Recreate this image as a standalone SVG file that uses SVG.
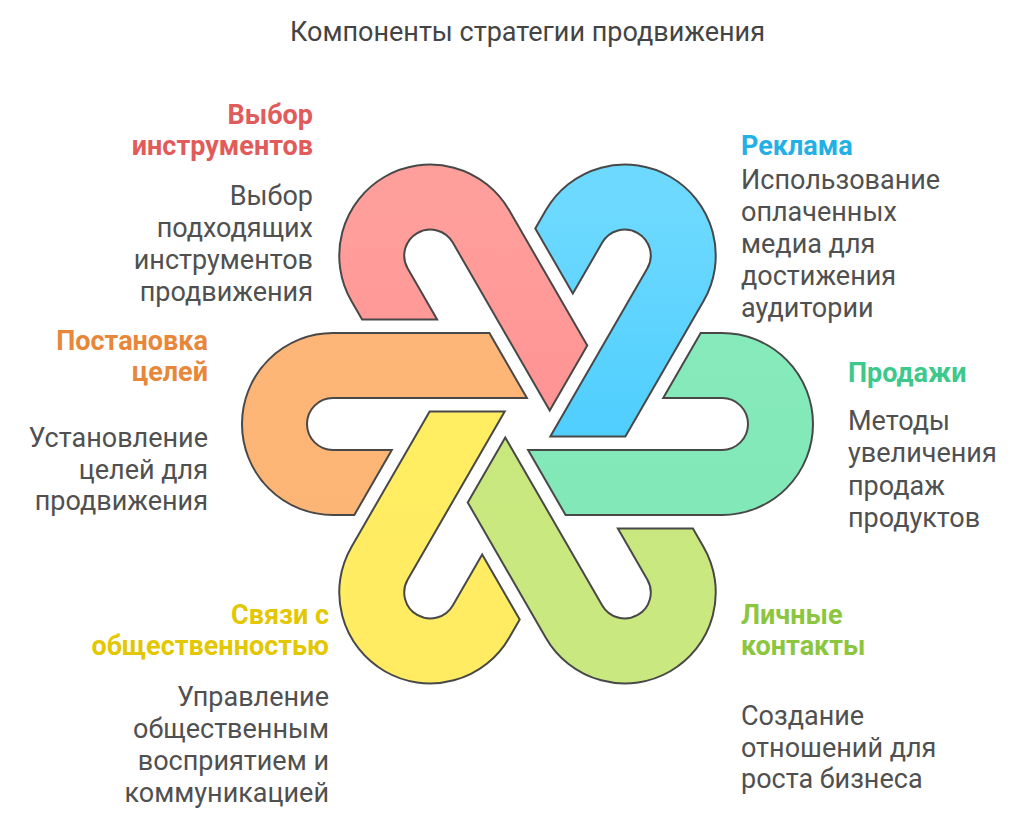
<svg xmlns="http://www.w3.org/2000/svg" width="1024" height="828" viewBox="0 0 1024 828">
<style>
.piece{stroke:#484848;stroke-width:2;stroke-linejoin:miter}
.title{font-family:Roboto,"Liberation Sans",sans-serif;font-size:27px;fill:#444}
.h{font-family:Roboto,"Liberation Sans",sans-serif;font-size:27px;font-weight:bold}
.b{font-family:Roboto,"Liberation Sans",sans-serif;font-size:27px;fill:#505050}
.r{text-anchor:end}
</style>
<defs>
<linearGradient id="gRed" gradientUnits="userSpaceOnUse" x1="0" y1="210" x2="0" y2="411"><stop offset="0" stop-color="#FF9F9B"/><stop offset="1" stop-color="#FF9494"/></linearGradient>
<linearGradient id="gBlue" gradientUnits="userSpaceOnUse" x1="0" y1="210" x2="0" y2="437"><stop offset="0" stop-color="#6DD9FF"/><stop offset="1" stop-color="#4FCEFE"/></linearGradient>
<linearGradient id="gGreen" gradientUnits="userSpaceOnUse" x1="0" y1="333" x2="0" y2="515"><stop offset="0" stop-color="#86EABA"/><stop offset="1" stop-color="#82E8B7"/></linearGradient>
<linearGradient id="gLime" gradientUnits="userSpaceOnUse" x1="0" y1="437" x2="0" y2="638"><stop offset="0" stop-color="#C8E87E"/><stop offset="1" stop-color="#C9E980"/></linearGradient>
<linearGradient id="gYellow" gradientUnits="userSpaceOnUse" x1="0" y1="411" x2="0" y2="638"><stop offset="0" stop-color="#FFED62"/><stop offset="1" stop-color="#FFEC63"/></linearGradient>
<linearGradient id="gOrange" gradientUnits="userSpaceOnUse" x1="0" y1="333" x2="0" y2="515"><stop offset="0" stop-color="#FDB677"/><stop offset="1" stop-color="#FDB576"/></linearGradient>
</defs>
<rect width="1024" height="828" fill="#ffffff"/>
<text class="title" x="527.5" y="41" text-anchor="middle">Компоненты стратегии продвижения</text>

<g id="connectors"></g>

<g id="node-vybor">
<path class="piece" fill="url(#gRed)" d="M509.06,210.06 L587.26,345.51 L549.73,410.5 L452.77,242.56 A26,26 0 0 0 407.73,268.56 L437.13,319.48 L362.09,319.5 L351.44,301.06 A91,91 0 0 1 509.06,210.06 Z"/>
<text class="h r" fill="#E25B5B" x="313" y="124">Выбор</text>
<text class="h r" fill="#E25B5B" x="313" y="155">инструментов</text>
<text class="b r" x="313" y="205">Выбор</text>
<text class="b r" x="313" y="237">подходящих</text>
<text class="b r" x="313" y="269">инструментов</text>
<text class="b r" x="313" y="301">продвижения</text>
</g>

<g id="node-reklama">
<path class="piece" fill="url(#gBlue)" d="M703.56,301.06 L625.36,436.51 L550.31,436.5 L647.27,268.56 A26,26 0 0 0 602.23,242.56 L572.83,293.48 L535.29,228.5 L545.94,210.06 A91,91 0 0 1 703.56,301.06 Z"/>
<text class="h" fill="#22B0E6" x="741" y="155">Реклама</text>
<text class="b" x="741" y="189">Использование</text>
<text class="b" x="741" y="221">оплаченных</text>
<text class="b" x="741" y="253">медиа для</text>
<text class="b" x="741" y="285">достижения</text>
<text class="b" x="741" y="317">аудитории</text>
</g>

<g id="node-prodazhi">
<path class="piece" fill="url(#gGreen)" d="M722,515 L565.6,515 L528.08,450 L722,450 A26,26 0 0 0 722,398 L663.2,398 L700.7,333 L722,333 A91,91 0 0 1 722,515 Z"/>
<text class="h" fill="#3CC98B" x="848" y="382">Продажи</text>
<text class="b" x="848" y="430">Методы</text>
<text class="b" x="848" y="462">увеличения</text>
<text class="b" x="848" y="495">продаж</text>
<text class="b" x="848" y="527">продуктов</text>
</g>

<g id="node-kontakty">
<path class="piece" fill="url(#gLime)" d="M545.94,637.94 L467.74,502.49 L505.27,437.5 L602.23,605.44 A26,26 0 0 0 647.27,579.44 L617.87,528.52 L692.91,528.5 L703.56,546.94 A91,91 0 0 1 545.94,637.94 Z"/>
<text class="h" fill="#8CC63E" x="741" y="624">Личные</text>
<text class="h" fill="#8CC63E" x="741" y="655">контакты</text>
<text class="b" x="741" y="725">Создание</text>
<text class="b" x="741" y="757">отношений для</text>
<text class="b" x="741" y="788">роста бизнеса</text>
</g>

<g id="node-svyazi">
<path class="piece" fill="url(#gYellow)" d="M351.44,546.94 L429.64,411.49 L504.69,411.5 L407.73,579.44 A26,26 0 0 0 452.77,605.44 L482.17,554.52 L519.71,619.5 L509.06,637.94 A91,91 0 0 1 351.44,546.94 Z"/>
<text class="h r" fill="#E3C700" x="329" y="624">Связи с</text>
<text class="h r" fill="#E3C700" x="329" y="655">общественностью</text>
<text class="b r" x="329" y="706">Управление</text>
<text class="b r" x="329" y="738">общественным</text>
<text class="b r" x="329" y="770">восприятием и</text>
<text class="b r" x="329" y="802">коммуникацией</text>
</g>

<g id="node-celi">
<path class="piece" fill="url(#gOrange)" d="M333,333 L489.4,333 L526.92,398 L333,398 A26,26 0 0 0 333,450 L391.8,450 L354.3,515 L333,515 A91,91 0 0 1 333,333 Z"/>
<text class="h r" fill="#E8873A" x="208" y="350">Постановка</text>
<text class="h r" fill="#E8873A" x="208" y="381">целей</text>
<text class="b r" x="208" y="447">Установление</text>
<text class="b r" x="208" y="479">целей для</text>
<text class="b r" x="208" y="510">продвижения</text>
</g>
</svg>
